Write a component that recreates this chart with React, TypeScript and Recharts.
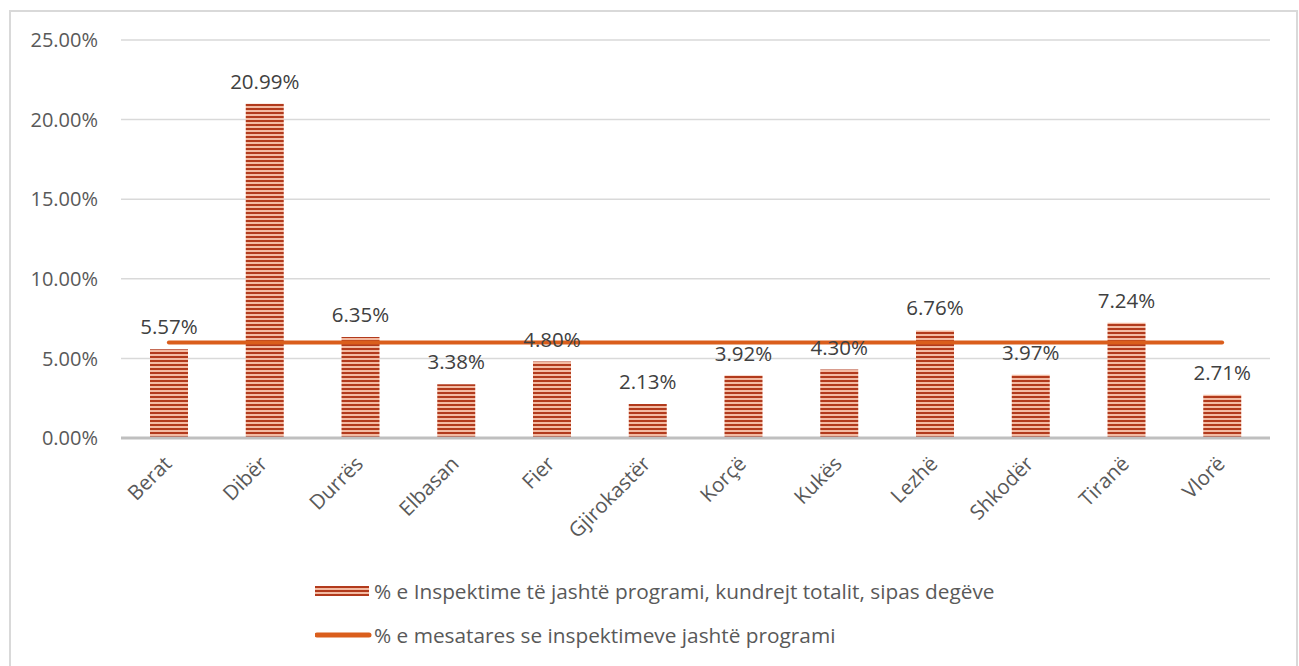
import { ComposedChart, Bar, Line, XAxis, YAxis, CartesianGrid, LabelList } from "recharts";

const branches = [
  "Berat", "Dibër", "Durrës", "Elbasan", "Fier", "Gjirokastër",
  "Korçë", "Kukës", "Lezhë", "Shkodër", "Tiranë", "Vlorë",
];
const outsideShare = [5.57, 20.99, 6.35, 3.38, 4.8, 2.13, 3.92, 4.3, 6.76, 3.97, 7.24, 2.71];
const averageShare = [6.0, 6.0, 6.0, 6.0, 6.0, 6.0, 6.0, 6.0, 6.0, 6.0, 6.0, 6.0];
const yTicks = [0, 5, 10, 15, 20, 25];

const barLabel = "% e Inspektime të jashtë programi, kundrejt totalit, sipas degëve";
const lineLabel = "% e mesatares se inspektimeve jashtë programi";

const FONT = "'Open Sans', sans-serif";
const TEXT = "#595959";
const ORANGE = "#DA5E1C";

const data = branches.map((name, i) => ({
  name,
  share: outsideShare[i],
  avg: averageShare[i],
}));

const pct = (v: number) => `${v.toFixed(2)}%`;

function XTick(props: any) {
  const { x, y, payload } = props;
  return (
    <g transform={`translate(${x + 4},${y + 19})`}>
      <text
        textAnchor="end"
        transform="rotate(-45)"
        fill={TEXT}
        fontSize={20.5}
        fontFamily={FONT}
      >
        {payload.value}
      </text>
    </g>
  );
}

export default function App() {
  return (
    <div style={{ position: "absolute", left: 0, top: 0, width: 1299, height: 666, background: "#fff", overflow: "hidden" }}>
      <svg width={0} height={0} style={{ position: "absolute" }}>
        <defs>
          <pattern id="stripes" width={8} height={4} patternUnits="userSpaceOnUse">
            <rect x={0} y={0} width={8} height={4} fill="#F3BBA3" />
            <rect x={0} y={0} width={8} height={2} fill="#B23A1C" />
          </pattern>
        </defs>
      </svg>
      <div
        style={{
          position: "absolute",
          left: 9,
          top: 10,
          width: 1289,
          height: 670,
          border: "2px solid #d9d9d9",
          boxSizing: "border-box",
        }}
      />
      <div style={{ position: "absolute", left: 0, top: 0 }}>
        <ComposedChart
          width={1299}
          height={666}
          data={data}
          margin={{ top: 40, right: 29, left: 0, bottom: 0 }}
        >
          <CartesianGrid vertical={false} stroke="#d9d9d9" strokeWidth={1.5} />
          <XAxis
            dataKey="name"
            axisLine={{ stroke: "#bfbfbf", strokeWidth: 3 }}
            tickLine={false}
            tick={<XTick />}
            interval={0}
            height={228}
          />
          <YAxis
            width={121}
            domain={[0, 25]}
            ticks={yTicks}
            tickFormatter={pct}
            axisLine={false}
            tickLine={false}
            tickSize={0}
            tickMargin={23}
            tick={{ fill: TEXT, fontSize: 20, fontFamily: FONT }}
          />
          <Bar dataKey="share" fill="url(#stripes)" barSize={38} isAnimationActive={false}>
            <LabelList
              dataKey="share"
              position="top"
              offset={15}
              formatter={(v: any) => pct(Number(v))}
              fill="#404040"
              fontSize={20.5}
              fontFamily={FONT}
            />
          </Bar>
          <Line
            dataKey="avg"
            type="linear"
            stroke={ORANGE}
            strokeWidth={4}
            strokeLinecap="round"
            dot={false}
            activeDot={false}
            isAnimationActive={false}
          />
        </ComposedChart>
      </div>
      <div style={{ position: "absolute", left: 315, top: 577, fontFamily: FONT, fontSize: 20.8, color: TEXT }}>
        <div style={{ display: "flex", alignItems: "center", height: 28 }}>
          <svg width={58} height={10}>
            <rect x={0} y={0} width={54} height={10} fill="url(#stripes)" />
          </svg>
          <span style={{ marginLeft: 1 }}>{barLabel}</span>
        </div>
        <div style={{ display: "flex", alignItems: "center", height: 28, marginTop: 16 }}>
          <svg width={58} height={10}>
            <line x1={2} y1={5} x2={54} y2={5} stroke={ORANGE} strokeWidth={5} strokeLinecap="round" />
          </svg>
          <span style={{ marginLeft: 1 }}>{lineLabel}</span>
        </div>
      </div>
    </div>
  );
}
